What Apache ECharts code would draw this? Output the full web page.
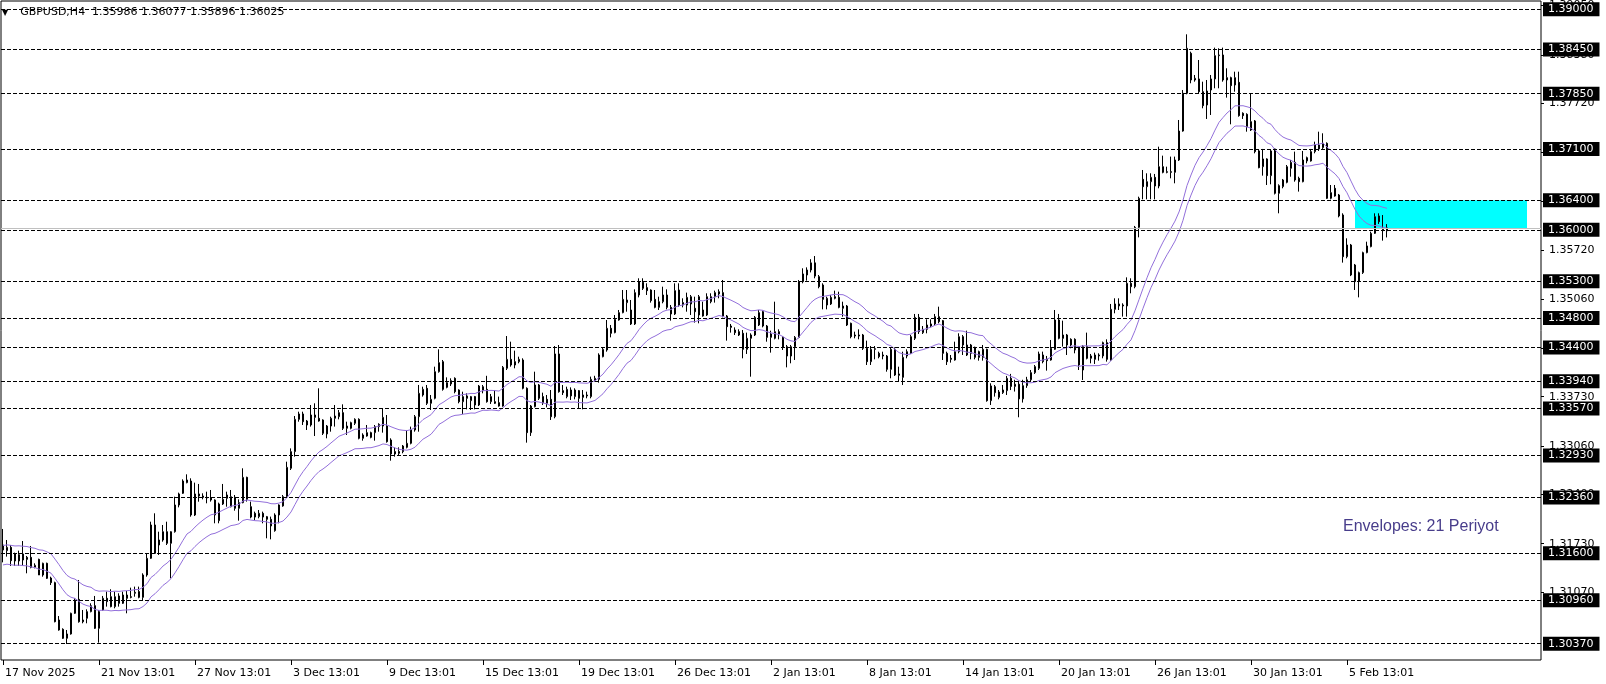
<!DOCTYPE html>
<html><head><meta charset="utf-8">
<script src="https://cdn.jsdelivr.net/npm/echarts@6/dist/echarts.min.js"></script>
<style>html,body{margin:0;padding:0;background:#fff}#c{width:1606px;height:684px}</style>
</head><body><div id="c"></div>
<script>
const symbolName = 'GBPUSD,H4';
const tickLabels = ['17 Nov 2025','21 Nov 13:01','27 Nov 13:01','3 Dec 13:01','9 Dec 13:01','15 Dec 13:01','19 Dec 13:01','26 Dec 13:01','2 Jan 13:01','8 Jan 13:01','14 Jan 13:01','20 Jan 13:01','26 Jan 13:01','30 Jan 13:01','5 Feb 13:01'];
const opens = [1.31645,1.31636,1.31681,1.31591,1.31496,1.31591,1.31545,1.31545,1.31409,1.31518,
1.31305,1.31464,1.31264,1.31201,1.30693,1.30566,1.30444,1.30503,1.30784,1.30974,
1.30693,1.30716,1.30807,1.30888,1.30580,1.30829,1.30988,1.31010,1.30875,1.31020,
1.30920,1.31033,1.31001,1.31056,1.31079,1.31001,1.31305,1.31532,1.31985,1.31713,
1.31781,1.31894,1.31736,1.31894,1.32257,1.32416,1.32561,1.32583,1.32121,1.32407,
1.32379,1.32361,1.32352,1.32325,1.32044,1.32271,1.32393,1.32234,1.32361,1.32212,
1.32289,1.32633,1.32234,1.32144,1.32099,1.32144,1.32062,1.32062,1.31908,1.32121,
1.32244,1.32370,1.32756,1.32983,1.33422,1.33495,1.33399,1.33345,1.33481,1.33436,
1.33413,1.33223,1.33331,1.33436,1.33458,1.33513,1.33300,1.33300,1.33368,1.33422,
1.33164,1.33195,1.33241,1.33241,1.33323,1.33331,1.33331,1.33141,1.32983,1.32983,
1.32983,1.33041,1.33096,1.33277,1.33458,1.33753,1.33844,1.33640,1.33708,1.34070,
1.34206,1.33857,1.33903,1.33980,1.33821,1.33662,1.33740,1.33676,1.33731,1.33617,
1.33812,1.33830,1.33662,1.33662,1.33649,1.33603,1.34116,1.34238,1.34206,1.34206,
1.34229,1.33844,1.33241,1.33594,1.33889,1.33731,1.33694,1.33694,1.33458,1.34311,
1.33812,1.33731,1.33821,1.33731,1.33812,1.33721,1.33740,1.33731,1.33948,1.33966,
1.34274,1.34365,1.34660,1.34601,1.34773,1.34873,1.35009,1.34909,1.34719,1.35113,
1.35285,1.35213,1.35181,1.35054,1.34945,1.35022,1.35113,1.34945,1.34855,1.35181,
1.35009,1.34977,1.34991,1.34932,1.34841,1.34909,1.34841,1.35022,1.35090,1.35127,
1.35145,1.34827,1.34691,1.34637,1.34614,1.34592,1.34374,1.34524,1.34569,1.34705,
1.34886,1.34691,1.34537,1.34524,1.34614,1.34537,1.34410,1.34283,1.34410,1.34537,
1.35294,1.35385,1.35453,1.35550,1.35362,1.35249,1.34977,1.34991,1.35068,1.35081,
1.34932,1.34963,1.34728,1.34569,1.34555,1.34569,1.34388,1.34206,1.34374,1.34320,
1.34297,1.34283,1.34102,1.34374,1.34039,1.33993,1.34283,1.34320,1.34524,1.34809,
1.34601,1.34646,1.34691,1.34719,1.34818,1.34764,1.34320,1.34252,1.34229,1.34342,
1.34546,1.34433,1.34320,1.34401,1.34342,1.34265,1.34374,1.33676,1.33866,1.33721,
1.33785,1.33812,1.33980,1.33870,1.33900,1.33700,1.33880,1.33960,1.34057,1.34116,
1.34297,1.34238,1.34229,1.34374,1.34773,1.34569,1.34569,1.34510,1.34510,1.34411,
1.34093,1.34411,1.34252,1.34238,1.34284,1.34284,1.34465,1.34229,1.34918,1.34991,
1.34964,1.34964,1.35272,1.35226,1.36033,1.36686,1.36586,1.36654,1.36713,1.36595,
1.36858,1.36781,1.36790,1.36781,1.36949,1.37343,1.37856,1.38400,1.38037,1.38051,
1.37878,1.37697,1.37901,1.38051,1.38368,1.38377,1.38037,1.38069,1.37969,1.38005,
1.37584,1.37570,1.37470,1.37480,1.37072,1.36858,1.36963,1.36736,1.37099,1.36496,
1.36587,1.36645,1.36836,1.36917,1.36700,1.36654,1.36936,1.36936,1.37063,1.37153,
1.37117,1.37176,1.36428,1.36564,1.36473,1.36201,1.35634,1.35793,1.35521,1.35295,
1.35417,1.35689,1.35771,1.35952,1.36188,1.36006,1.35986];
const closes = [1.31713,1.31681,1.31500,1.31496,1.31582,1.31509,1.31518,1.31409,1.31437,1.31305,
1.31464,1.31260,1.31201,1.30670,1.30557,1.30444,1.30503,1.30784,1.30965,1.30670,
1.30670,1.30807,1.30888,1.30580,1.30807,1.30988,1.30943,1.30875,1.31010,1.30920,
1.31033,1.30988,1.31010,1.31070,1.31001,1.31305,1.31532,1.31985,1.31600,1.31781,
1.31894,1.31736,1.31894,1.32257,1.32407,1.32583,1.32597,1.32121,1.32407,1.32379,
1.32361,1.32352,1.32325,1.32121,1.32271,1.32334,1.32348,1.32370,1.32212,1.32289,
1.32633,1.32334,1.32093,1.32093,1.32144,1.32093,1.32099,1.31972,1.32121,1.32257,
1.32370,1.32769,1.32983,1.33422,1.33495,1.33390,1.33345,1.33481,1.33449,1.33399,
1.33232,1.33331,1.33436,1.33467,1.33513,1.33300,1.33331,1.33377,1.33422,1.33164,
1.33209,1.33241,1.33177,1.33323,1.33354,1.33449,1.33118,1.32951,1.32951,1.32960,
1.33059,1.33096,1.33277,1.33458,1.33776,1.33830,1.33640,1.33694,1.34070,1.34193,
1.33830,1.33921,1.33948,1.33798,1.33662,1.33731,1.33708,1.33731,1.33617,1.33875,
1.33866,1.33662,1.33731,1.33640,1.33603,1.34129,1.34238,1.34161,1.34161,1.34238,
1.33844,1.33241,1.33603,1.33889,1.33708,1.33649,1.33640,1.33458,1.34311,1.33798,
1.33785,1.33830,1.33740,1.33821,1.33708,1.33753,1.33753,1.33966,1.33980,1.34297,
1.34374,1.34660,1.34592,1.34782,1.34873,1.35054,1.35045,1.34719,1.35145,1.35294,
1.35204,1.35172,1.35036,1.34945,1.35022,1.35113,1.34945,1.34855,1.35172,1.34977,
1.34977,1.35081,1.35090,1.34886,1.35090,1.34827,1.35090,1.35090,1.35145,1.35158,
1.34827,1.34682,1.34673,1.34601,1.34569,1.34374,1.34524,1.34569,1.34809,1.34873,
1.34691,1.34537,1.34583,1.34614,1.34583,1.34401,1.34283,1.34410,1.34537,1.35294,
1.35399,1.35453,1.35550,1.35370,1.35226,1.35054,1.35068,1.35081,1.35090,1.34945,
1.34963,1.34705,1.34546,1.34555,1.34569,1.34388,1.34206,1.34374,1.34383,1.34274,
1.34283,1.34102,1.34374,1.34025,1.34021,1.34265,1.34342,1.34546,1.34809,1.34614,
1.34646,1.34705,1.34719,1.34818,1.34750,1.34320,1.34206,1.34238,1.34342,1.34546,
1.34433,1.34297,1.34433,1.34265,1.34265,1.34374,1.33676,1.33876,1.33785,1.33794,
1.33821,1.33980,1.33870,1.33900,1.33700,1.33880,1.33960,1.34057,1.34139,1.34311,
1.34207,1.34220,1.34388,1.34773,1.34524,1.34524,1.34433,1.34433,1.34365,1.34161,
1.34411,1.34252,1.34284,1.34297,1.34297,1.34465,1.34238,1.34918,1.34991,1.34964,
1.34977,1.35272,1.35226,1.36033,1.36428,1.36586,1.36654,1.36713,1.36595,1.36858,
1.36781,1.36790,1.36781,1.36949,1.37343,1.37856,1.38468,1.38037,1.38060,1.37878,
1.37688,1.37887,1.38051,1.38368,1.38377,1.38037,1.38069,1.37960,1.38069,1.37552,
1.37552,1.37402,1.37357,1.37063,1.36845,1.36963,1.36736,1.37072,1.36496,1.36600,
1.36677,1.36858,1.36917,1.36677,1.36654,1.36949,1.36981,1.37063,1.37153,1.37099,
1.37176,1.36428,1.36505,1.36459,1.36188,1.35634,1.35793,1.35385,1.35295,1.35417,
1.35689,1.35780,1.35952,1.36178,1.36110,1.35988,1.36025];
const lows = [1.31477,1.31555,1.31428,1.31428,1.31428,1.31428,1.31328,1.31396,1.31396,1.31305,
1.31282,1.31251,1.31169,1.30661,1.30548,1.30435,1.30367,1.30494,1.30775,1.30657,
1.30648,1.30648,1.30797,1.30571,1.30385,1.30820,1.30875,1.30865,1.30852,1.30875,
1.30911,1.30784,1.30988,1.31010,1.30988,1.30965,1.31282,1.31523,1.31591,1.31577,
1.31758,1.31713,1.31260,1.31881,1.32225,1.32407,1.32552,1.32098,1.32107,1.32302,
1.32334,1.32280,1.32303,1.32008,1.32008,1.32257,1.32234,1.32225,1.32180,1.32044,
1.32280,1.32303,1.32076,1.32053,1.32076,1.32008,1.31804,1.31790,1.31894,1.32008,
1.32234,1.32361,1.32733,1.32914,1.33390,1.33345,1.33277,1.33323,1.33195,1.33390,
1.33209,1.33164,1.33254,1.33323,1.33422,1.33277,1.33209,1.33286,1.33345,1.33150,
1.33132,1.33186,1.33164,1.33132,1.33254,1.33241,1.33105,1.32860,1.32914,1.32924,
1.32960,1.33027,1.33082,1.33254,1.33254,1.33731,1.33617,1.33549,1.33694,1.34057,
1.33812,1.33844,1.33875,1.33776,1.33640,1.33495,1.33558,1.33549,1.33558,1.33603,
1.33776,1.33649,1.33631,1.33631,1.33594,1.33594,1.34093,1.34138,1.34116,1.34184,
1.33830,1.33105,1.33196,1.33585,1.33685,1.33617,1.33585,1.33413,1.33436,1.33785,
1.33753,1.33708,1.33685,1.33694,1.33572,1.33558,1.33708,1.33708,1.33934,1.33921,
1.34265,1.34342,1.34537,1.34592,1.34764,1.34864,1.34886,1.34705,1.34705,1.35081,
1.35181,1.35113,1.35009,1.34932,1.34909,1.35000,1.34918,1.34764,1.34841,1.34954,
1.34945,1.34886,1.34841,1.34737,1.34728,1.34818,1.34827,1.35000,1.35009,1.35068,
1.34809,1.34492,1.34601,1.34569,1.34555,1.34252,1.34311,1.34002,1.34555,1.34691,
1.34673,1.34478,1.34329,1.34510,1.34510,1.34365,1.34129,1.34184,1.34229,1.34524,
1.35272,1.35308,1.35420,1.35340,1.35204,1.34918,1.34918,1.34977,1.35054,1.34932,
1.34818,1.34691,1.34524,1.34524,1.34510,1.34365,1.34161,1.34161,1.34238,1.34252,
1.34238,1.34070,1.33980,1.34012,1.33934,1.33889,1.34252,1.34311,1.34501,1.34583,
1.34583,1.34592,1.34673,1.34705,1.34728,1.34229,1.34161,1.34193,1.34220,1.34320,
1.34297,1.34283,1.34238,1.34238,1.34220,1.34220,1.33662,1.33617,1.33731,1.33694,
1.33767,1.33753,1.33820,1.33800,1.33450,1.33650,1.33850,1.33940,1.34039,1.34093,
1.34184,1.34084,1.34220,1.34365,1.34510,1.34411,1.34297,1.34388,1.34320,1.34093,
1.33957,1.34238,1.34184,1.34175,1.34220,1.34252,1.34207,1.34220,1.34864,1.34909,
1.34819,1.34819,1.35136,1.35204,1.35897,1.36414,1.36414,1.36414,1.36414,1.36564,
1.36768,1.36768,1.36700,1.36632,1.36936,1.37334,1.37842,1.37992,1.38014,1.37856,
1.37652,1.37507,1.37561,1.37924,1.37924,1.38014,1.37797,1.37434,1.37878,1.37538,
1.37507,1.37334,1.37343,1.37040,1.36836,1.36736,1.36609,1.36618,1.36480,1.36224,
1.36564,1.36632,1.36722,1.36654,1.36519,1.36645,1.36904,1.36927,1.37040,1.37072,
1.37099,1.36419,1.36414,1.36450,1.36169,1.35553,1.35612,1.35370,1.35181,1.35081,
1.35399,1.35680,1.35761,1.35943,1.36079,1.35852,1.35896];
const highs = [1.31931,1.31781,1.31713,1.31609,1.31636,1.31767,1.31564,1.31700,1.31464,1.31527,
1.31473,1.31473,1.31282,1.31214,1.30747,1.30580,1.30557,1.30793,1.30988,1.31237,
1.30829,1.30838,1.30920,1.31020,1.30829,1.31020,1.31079,1.31111,1.31079,1.31056,
1.31079,1.31088,1.31133,1.31147,1.31147,1.31328,1.31600,1.32030,1.32144,1.31894,
1.31985,1.32030,1.31900,1.32370,1.32425,1.32606,1.32674,1.32620,1.32561,1.32543,
1.32416,1.32438,1.32461,1.32334,1.32289,1.32543,1.32438,1.32461,1.32393,1.32334,
1.32756,1.32642,1.32303,1.32167,1.32189,1.32167,1.32108,1.32099,1.32144,1.32266,
1.32393,1.32846,1.33027,1.33467,1.33526,1.33526,1.33413,1.33617,1.33640,1.33844,
1.33422,1.33345,1.33458,1.33617,1.33549,1.33626,1.33390,1.33390,1.33436,1.33436,
1.33232,1.33345,1.33254,1.33345,1.33368,1.33572,1.33481,1.33164,1.33041,1.33041,
1.33073,1.33277,1.33323,1.33481,1.33889,1.33866,1.33889,1.33753,1.34138,1.34374,
1.34229,1.33993,1.33980,1.33993,1.33830,1.33798,1.33776,1.33740,1.33740,1.33889,
1.33889,1.34014,1.33767,1.33821,1.33731,1.34147,1.34555,1.34478,1.34356,1.34274,
1.34252,1.33857,1.33617,1.34070,1.33903,1.33785,1.33753,1.33821,1.34419,1.34433,
1.33889,1.33866,1.33857,1.33844,1.33821,1.33821,1.33798,1.34003,1.34014,1.34320,
1.34401,1.34773,1.34705,1.34841,1.34909,1.35181,1.35181,1.35045,1.35190,1.35340,
1.35340,1.35272,1.35190,1.35181,1.35090,1.35226,1.35190,1.34977,1.35272,1.35272,
1.35068,1.35145,1.35113,1.35090,1.35113,1.35022,1.35136,1.35136,1.35172,1.35190,
1.35317,1.34841,1.34719,1.34673,1.34646,1.34637,1.34601,1.34592,1.34827,1.34909,
1.34900,1.34705,1.34628,1.35022,1.34646,1.34555,1.34433,1.34433,1.34555,1.35317,
1.35476,1.35489,1.35600,1.35643,1.35385,1.35272,1.35090,1.35113,1.35172,1.35158,
1.35022,1.34977,1.34737,1.34614,1.34646,1.34583,1.34492,1.34419,1.34419,1.34342,
1.34342,1.34297,1.34401,1.34401,1.34138,1.34342,1.34374,1.34569,1.34855,1.34855,
1.34691,1.34782,1.34782,1.34855,1.34954,1.34773,1.34342,1.34297,1.34478,1.34592,
1.34569,1.34628,1.34447,1.34410,1.34356,1.34433,1.34383,1.33912,1.33889,1.33821,
1.33889,1.34012,1.34040,1.33960,1.33930,1.33960,1.34000,1.34093,1.34161,1.34343,
1.34343,1.34284,1.34501,1.34909,1.34855,1.34764,1.34583,1.34524,1.34524,1.34420,
1.34433,1.34601,1.34311,1.34329,1.34320,1.34479,1.34510,1.34991,1.35068,1.35068,
1.35000,1.35353,1.35340,1.36052,1.36450,1.36813,1.36768,1.36768,1.36759,1.37130,
1.37008,1.36858,1.36995,1.36995,1.37493,1.37901,1.38658,1.38422,1.38105,1.38309,
1.38014,1.38037,1.38105,1.38477,1.38468,1.38477,1.38196,1.38082,1.38150,1.38150,
1.37597,1.37584,1.37856,1.37493,1.37085,1.37099,1.36972,1.37085,1.37108,1.36618,
1.36691,1.36881,1.36949,1.37063,1.36722,1.37072,1.36995,1.37099,1.37198,1.37334,
1.37312,1.37189,1.36609,1.36609,1.36487,1.36224,1.35884,1.35807,1.35535,1.35431,
1.35702,1.35838,1.35974,1.36224,1.36224,1.36201,1.36077];
const levels = [1.39000,1.38450,1.37850,1.37100,1.36400,1.36000,1.35300,1.34800,1.34400,1.33940,1.33570,1.32930,1.32360,1.31600,1.30960,1.30370];
const scaleTicks = [1.31070,1.31730,1.32400,1.33060,1.33730,1.34390,1.35060,1.35720,1.36390,1.37050,1.37720,1.38380,1.39050];
const bidPrice = 1.36025;
const zoneTop = 1.36400, zoneBottom = 1.36020, zoneFromBar = 338, zoneToBar = 381;
const envelopePeriod = 21, envelopeDeviation = 0.1, envelopeStartLevel = 1.3156;

// Envelopes: EMA(period) of closes, +/- deviation %
const alpha = 2 / (envelopePeriod + 1);
const ema = [];
let prev = envelopeStartLevel;
closes.forEach(c => { prev = prev + alpha * (c - prev); ema.push(prev); });
const upper = ema.map(v => +(v * (1 + envelopeDeviation / 100)).toFixed(5));
const lower = ema.map(v => +(v * (1 - envelopeDeviation / 100)).toFixed(5));

const slotCount = 385;
const categories = Array.from({length: slotCount}, (_, i) => String(i));
const candles = opens.map((o, i) => [o, closes[i], lows[i], highs[i]]);
const labelEvery = 24;
const showTick = (i) => i % labelEvery === 0 && i / labelEvery < tickLabels.length;
const last = opens.length - 1;
const headline = symbolName + '  ' + [opens[last], highs[last], lows[last], closes[last]].map(v => v.toFixed(5)).join(' ');
const FONT = 'DejaVu Sans';

const chart = echarts.init(document.getElementById('c'), null, {renderer: 'canvas'});
chart.setOption({
  animation: false,
  backgroundColor: '#ffffff',
  title: [
    {text: '{tri|▼}{m|' + headline + '}', left: 2, top: 7, padding: 0,
     textStyle: {fontWeight: 'normal', fontFamily: FONT, fontSize: 11, color: '#000',
       rich: {tri: {fontSize: 8, fontFamily: FONT, fontWeight: 'normal', color: '#000', padding: [0, 12, 0, 0]},
              m: {fontSize: 11, fontFamily: FONT, fontWeight: 'normal', color: '#000'}}}},
    {text: 'Envelopes: 21 Periyot', left: 1343, top: 519, padding: 0,
     textStyle: {fontFamily: 'Liberation Sans', fontSize: 16, fontWeight: 'normal', color: '#483D8B'}}
  ],
  grid: {left: 1, top: 1, width: 1540, height: 659, show: true, borderColor: '#000', borderWidth: 1, backgroundColor: '#fff', containLabel: false},
  xAxis: {
    type: 'category', data: categories, boundaryGap: true,
    axisLine: {show: false},
    axisTick: {show: true, interval: (i) => showTick(i), alignWithLabel: true, length: 5, lineStyle: {color: '#000'}},
    axisLabel: {interval: (i) => showTick(i), formatter: (v, i) => tickLabels[i / labelEvery] || '',
      align: 'left', margin: 8, color: '#000', fontFamily: FONT, fontSize: 11, padding: [0, 0, 0, 2]},
    splitLine: {show: false}
  },
  yAxis: {
    type: 'value', position: 'right', min: 1.30149, max: 1.39111, scale: true,
    axisLine: {show: false}, splitLine: {show: false},
    axisTick: {show: true, customValues: scaleTicks, length: 3, lineStyle: {color: '#000'}},
    axisLabel: {customValues: scaleTicks, formatter: (v) => v.toFixed(5), margin: 8, color: '#000', fontFamily: FONT, fontSize: 11}
  },
  series: [
    {name: 'levels', type: 'line', data: [], z: 1, silent: true,
     markLine: {symbol: ['none', 'none'], silent: true, animation: false, precision: 5,
       data: levels.map(v => ({yAxis: v, lineStyle: {type: [4, 2], color: '#000', width: 1},
         label: {show: true, position: 'end', distance: 2, formatter: v.toFixed(5), color: '#fff', backgroundColor: '#000',
                 padding: [2, 6, 1, 5], fontFamily: FONT, fontSize: 11}}))
         .concat([{yAxis: bidPrice, lineStyle: {type: 'solid', color: '#c0c0c0', width: 1}, label: {show: false}}])}},
    {name: 'zone', type: 'line', data: [], z: 2, silent: true,
     markArea: {silent: true, precision: 5, itemStyle: {color: '#00ffff', opacity: 1},
       data: [[{xAxis: zoneFromBar, yAxis: zoneTop}, {xAxis: zoneToBar, yAxis: zoneBottom}]]}},
    {name: 'GBPUSD', type: 'candlestick', data: candles, z: 3, barWidth: 2,
     itemStyle: {color: '#ffffff', color0: '#000000', borderColor: '#000000', borderColor0: '#000000', borderColorDoji: '#000000', borderWidth: 1}},
    {name: 'upper', type: 'line', data: upper, z: 4, symbol: 'none', lineStyle: {color: '#9370DB', width: 1}},
    {name: 'lower', type: 'line', data: lower, z: 4, symbol: 'none', lineStyle: {color: '#9370DB', width: 1}}
  ]
});
</script></body></html>
